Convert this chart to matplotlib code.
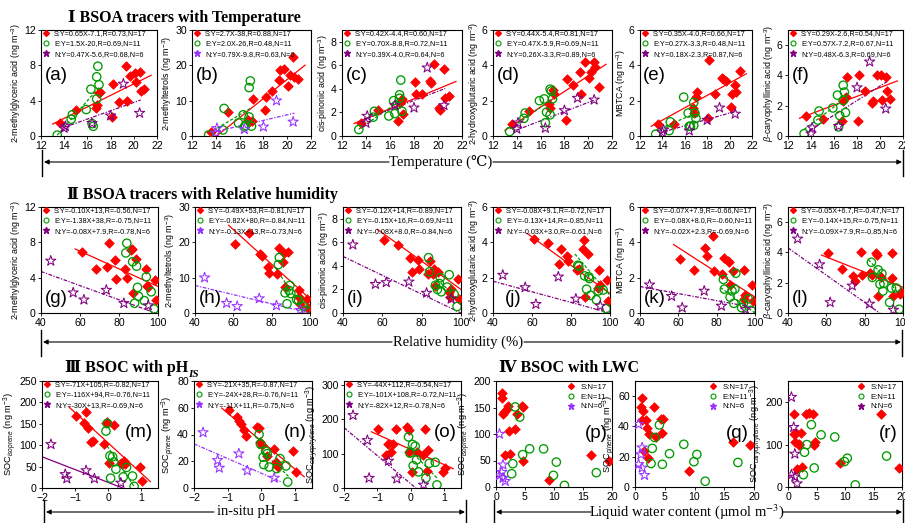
import re

import matplotlib

matplotlib.use("Agg")

import matplotlib.pyplot as plt
import numpy as np
from matplotlib.lines import Line2D

plt.rcParams["font.family"] = ["Liberation Sans", "DejaVu Sans"]
plt.rcParams["mathtext.fontset"] = "custom"
plt.rcParams["mathtext.rm"] = "Liberation Sans"
plt.rcParams["mathtext.it"] = "Liberation Sans:italic"
plt.rcParams["mathtext.bf"] = "Liberation Sans:bold"

SERIF = ["Liberation Serif", "DejaVu Serif", "DejaVu Sans"]
RED, GREEN, PURPLE, VIOLET = "#FF0000", "#009A00", "#800080", "#9932FF"
W, H = 905, 523

# ---------------- data ----------------
# row I: temperature (deg C) of S / E / N samples
temp_s = [13.6, 15.0, 16.7, 16.8, 17.0, 17.1, 18.1, 18.2, 18.7, 19.3, 19.4, 19.7, 20.1, 20.2, 20.5, 20.6, 20.9]
temp_e = [13.4, 14.6, 14.7, 15.9, 16.3, 16.4, 16.5, 16.8, 16.8, 16.9, 17.0]
temp_n = [14.0, 14.1, 16.4, 18.0, 19.1, 20.5]

mga_t_s = [1.5, 2.9, 3.2, 3.5, 4.9, 5.0, 2.2, 5.9, 3.8, 7.9, 4.0, 6.8, 7.1, 6.1, 7.2, 5.1, 5.3]
mga_t_e = [0.1, 1.9, 2.4, 3.0, 5.3, 1.4, 1.1, 4.2, 6.7, 7.9, 5.8]
mga_t_n = [0.9, 1.1, 1.45, 2.3, 5.9, 2.6]
mt_t_s = [1.2, 6.7, 4.5, 4.0, 4.3, 10.6, 7.3, 11.1, 12.8, 15.8, 18.6, 19.1, 14.2, 17.2, 22.3, 16.7, 16.2]
mt_t_e = [0.3, 1.7, 7.8, 3.7, 6.0, 2.6, 3.0, 13.7, 5.4, 15.6, 2.8]
mt_t_n = [0.9, 2.2, 1.9, 2.6, 10.0, 4.0]
cpa_t_s = [1.1, 2.2, 1.3, 2.8, 3.1, 1.9, 4.6, 3.6, 3.6, 4.7, 4.5, 6.1, 2.4, 2.2, 5.7, 3.2, 3.4]
cpa_t_e = [0.55, 1.6, 2.1, 1.7, 3.0, 1.9, 2.6, 3.2, 3.5, 4.75, 2.1]
cpa_t_n = [1.1, 1.7, 2.6, 2.4, 5.8, 2.6]
hga_t_s = [0.7, 1.4, 1.8, 1.6, 2.6, 2.4, 0.9, 3.25, 2.9, 3.6, 2.4, 4.2, 3.3, 3.65, 4.2, 3.9, 2.8]
hga_t_e = [0.25, 1.0, 1.3, 2.0, 2.1, 0.75, 1.35, 2.65, 1.2, 2.55, 2.1]
hga_t_n = [0.4, 0.75, 0.45, 1.45, 2.15, 2.05]
mbtca_t_s = [0.7, 0.7, 1.6, 1.3, 2.2, 2.5, 1.0, 4.3, 2.4, 3.3, 3.2, 3.1, 1.65, 2.35, 2.9, 2.5, 3.7]
mbtca_t_e = [0.1, 0.3, 0.8, 2.2, 1.3, 0.55, 0.55, 1.9, 0.6, 1.3, 1.0]
mbtca_t_n = [0.2, 0.35, 0.3, 0.9, 1.6, 1.25]
bca_t_s = [1.3, 1.1, 1.0, 2.3, 2.6, 3.9, 1.0, 4.0, 3.0, 2.2, 2.3, 4.0, 4.0, 2.4, 3.9, 3.0, 2.45]
bca_t_e = [0.15, 1.05, 1.65, 1.85, 2.7, 0.6, 1.35, 3.35, 2.35, 2.9, 1.55]
bca_t_n = [0.15, 0.55, 0.65, 3.2, 4.9, 1.8]

# row II: relative humidity (%)
rh_s = [61, 68, 74, 75, 78, 78.5, 83, 84, 86, 86.5, 87, 88.5, 94, 94.5, 95, 98.5, 99]
rh_e = [83.5, 84, 87, 88, 89, 89.5, 90, 93, 94, 96.5, 98]
rh_n = [45, 56.5, 62, 73.5, 82.5, 95]

mga_rh_s = [6.9, 5.0, 5.2, 7.9, 6.0, 3.9, 5.0, 4.0, 7.1, 7.2, 2.3, 6.1, 5.0, 3.1, 2.9, 3.7, 1.5]
mga_rh_e = [6.8, 7.9, 5.8, 1.1, 5.3, 2.9, 1.9, 1.4, 4.1, 2.4, 0.45]
mga_rh_n = [5.9, 2.3, 1.5, 2.6, 1.1, 0.85]
mt_rh_s = [19.4, 22.6, 16.6, 16.0, 13.0, 11.3, 10.9, 18.5, 14.4, 17.0, 7.4, 17.3, 6.6, 4.5, 2.6, 4.0, 1.5]
mt_rh_e = [13.7, 15.7, 5.7, 2.6, 6.4, 7.8, 5.5, 3.8, 3.6, 1.9, 0.75]
mt_rh_n = [10.0, 2.8, 1.9, 4.1, 2.1, 0.8]
cpa_rh_s = [6.2, 5.8, 4.7, 3.5, 4.5, 3.7, 3.3, 4.4, 3.3, 3.7, 2.3, 3.5, 1.8, 1.4, 2.0, 2.9, 1.2]
cpa_rh_e = [4.7, 3.5, 2.35, 2.0, 2.5, 3.0, 1.8, 2.2, 3.25, 1.6, 0.55]
cpa_rh_n = [5.8, 2.45, 2.6, 2.65, 1.7, 1.2]
hga_rh_s = [4.2, 3.95, 2.8, 3.6, 3.2, 2.95, 2.45, 2.5, 3.6, 4.15, 0.9, 3.35, 1.4, 2.45, 1.6, 1.85, 0.7]
hga_rh_e = [2.7, 2.65, 2.1, 1.35, 2.05, 1.95, 1.0, 0.75, 1.25, 1.3, 0.25]
hga_rh_n = [2.15, 1.45, 0.5, 2.05, 0.8, 0.4]
mbtca_rh_s = [3.05, 2.45, 3.7, 3.2, 4.35, 2.4, 2.2, 3.1, 2.95, 2.9, 1.6, 2.4, 0.8, 2.45, 1.0, 1.6, 0.7]
mbtca_rh_e = [1.9, 1.35, 0.9, 1.25, 0.55, 1.35, 2.25, 0.3, 0.55, 0.8, 0.15]
mbtca_rh_n = [1.6, 0.95, 0.3, 1.25, 0.4, 0.2]
bca_rh_s = [3.95, 2.9, 2.45, 2.1, 4.0, 2.5, 2.65, 2.5, 3.95, 3.85, 1.1, 2.4, 2.3, 3.95, 1.1, 1.25, 1.4]
bca_rh_e = [3.35, 2.35, 2.85, 1.9, 2.6, 1.45, 1.95, 0.7, 1.65, 1.65, 0.25]
bca_rh_n = [4.9, 3.2, 0.7, 1.8, 0.6, 0.2]

# row III: in-situ pH
ph_s = [-0.97, -0.73, -0.67, -0.6, -0.53, -0.45, -0.13, -0.07, -0.05, 0.03, 0.17, 0.37, 0.42, 0.47, 0.5, 0.95, 1.03]
ph_e = [-0.07, -0.03, 0.05, 0.07, 0.13, 0.17, 0.23, 0.45, 0.55, 0.73, 0.78]
ph_n = [-1.73, -1.3, -1.25, -0.67, -0.42, 0.38]

iso_ph_s = [169, 153, 178, 141, 108, 110, 102, 151, 155, 59, 148, 59, 57, 62, 55, 49, 16]
iso_ph_e = [133, 151, 75, 23, 73, 61, 44, 26, 48, 28, 4]
iso_ph_n = [102, 32, 22, 41, 22, 12]
pin_ph_s = [58, 53, 50, 48, 43, 39, 45.7, 44.5, 34.5, 32, 24, 29.5, 19.5, 18, 16, 27.5, 12]
pin_ph_e = [40, 33, 23, 17.5, 27.5, 25.7, 15.7, 14.5, 22, 16.5, 4.5]
pin_ph_n = [41.5, 20.7, 15, 25.7, 13, 7.5]
car_ph_s = [172, 97, 129, 105, 129, 172, 177, 169, 105, 47, 105, 97, 172, 49, 110, 47, 59]
car_ph_e = [149, 102, 127, 65, 122, 82, 47, 29, 72, 75, 9]
car_ph_n = [212, 139, 29, 79, 27, 9]

# row IV: liquid water content (umol m-3)
lwc_s = [1.0, 1.1, 1.2, 1.4, 1.5, 1.9, 2.0, 2.2, 2.4, 3.2, 3.6, 4.4, 4.6, 4.7, 9.1, 16.4, 19.4]
lwc_e = [2.7, 2.9, 3.3, 4.1, 4.6, 5.8, 8.2, 9.9, 10.4, 11.8, 17.3]
lwc_n = [0.6, 0.6, 1.0, 1.2, 1.2, 1.6]

iso_lwc_s = [178, 168, 138, 141, 60, 147, 153, 105, 62, 110, 138, 153, 151, 50, 14, 60, 49]
iso_lwc_e = [25, 44, 151, 132, 61, 72, 72, 22, 47, 3, 27]
iso_lwc_n = [100, 22, 28, 42, 17, 11]
pin_lwc_s = [53, 58.9, 44, 50, 24, 44, 39, 19, 35, 52.7, 33, 45, 35.5, 45, 10.4, 29.5, 27.8]
pin_lwc_e = [15.5, 25.5, 32.7, 41, 15, 22, 28.2, 16.7, 21.5, 3.8, 16.2]
pin_lwc_n = [41.5, 15, 21.5, 26, 12.7, 7.8]
car_lwc_s = [172, 125, 106, 128, 42, 102, 98, 128, 47, 172, 175, 172, 98, 106, 57, 171, 45]
car_lwc_e = [29, 82, 100, 147, 45, 123, 118, 60, 68, 5, 73]
car_lwc_n = [212, 29, 141, 78, 24, 8]

# legend texts (regression equations as printed)
leg_a = ["S:Y=0.65X-7.1,R=0.73,N=17", "E:Y=1.5X-20,R=0.69,N=11", "N:Y=0.47X-5.6,R=0.68,N=6"]
leg_b = ["S:Y=2.7X-38,R=0.88,N=17", "E:Y=2.0X-26,R=0.48,N=11", "N:Y=0.79X-9.8,R=0.63,N=6"]
leg_c = ["S:Y=0.42X-4.4,R=0.60,N=17", "E:Y=0.70X-8.8,R=0.72,N=11", "N:Y=0.39X-4.0,R=0.64,N=6"]
leg_d = ["S:Y=0.44X-5.4,R=0.81,N=17", "E:Y=0.47X-5.9,R=0.69,N=11", "N:Y=0.26X-3.3,R=0.89,N=6"]
leg_e = ["S:Y=0.35X-4.0,R=0.66,N=17", "E:Y=0.27X-3.3,R=0.48,N=11", "N:Y=0.18X-2.3,R=0.87,N=6"]
leg_f = ["S:Y=0.29X-2.6,R=0.54,N=17", "E:Y=0.57X-7.2,R=0.67,N=11", "N:Y=0.48X-6.3,R=0.69,N=6"]
leg_g = ["S:Y=-0.10X+13,R=-0.56,N=17", "E:Y=-1.38X+38,R=-0.75,N=11", "N:Y=-0.08X+7.9,R=-0.78,N=6"]
leg_h = ["S:Y=-0.49X+53,R=-0.81,N=17", "E:Y=-0.82X+80,R=-0.84,N=11", "N:Y=-0.13X+13,R=-0.73,N=6"]
leg_i = ["S:Y=-0.12X+14,R=-0.89,N=17", "E:Y=-0.15X+16,R=-0.69,N=11", "N:Y=-0.08X+8.0,R=-0.84,N=6"]
leg_j = ["S:Y=-0.08X+9.1,R=-0.72,N=17", "E:Y=-0.13X+14,R=-0.85,N=11", "N:Y=-0.03X+3.0,R=-0.61,N=6"]
leg_k = ["S:Y=-0.07X+7.9,R=-0.66,N=17", "E:Y=-0.08X+8.0,R=-0.60,N=11", "N:Y=-0.02X+2.3,R=-0.69,N=6"]
leg_l = ["S:Y=-0.05X+6.7,R=-0.47,N=17", "E:Y=-0.14X+15,R=-0.75,N=11", "N:Y=-0.09X+7.9,R=-0.85,N=6"]
leg_m = ["S:Y=-71X+105,R=-0.82,N=17", "E:Y=-116X+94,R=-0.76,N=11", "N:Y=-30X+13,R=-0.69,N=6"]
leg_n = ["S:Y=-21X+35,R=-0.87,N=17", "E:Y=-24X+28,R=-0.76,N=11", "N:Y=-11X+11,R=-0.75,N=6"]
leg_o = ["S:Y=-44X+112,R=-0.54,N=17", "E:Y=-101X+108,R=-0.72,N=11", "N:Y=-82X+12,R=-0.78,N=6"]
leg_lwc = ["S:N=17", "E:N=11", "N:N=6"]

UNIT = " (ng m$^{-3}$)"
ylab_mga = "2-methylglyceric acid" + UNIT
ylab_mt = "2-methyltetrols" + UNIT
ylab_cpa = "cis-pinonic acid" + UNIT
ylab_hga = "2-hydroxyglutaric acid" + UNIT
ylab_mbtca = "MBTCA" + UNIT
ylab_bca = r"$\beta$-caryophyllinic acid" + UNIT
ylab_iso = r"SOC$_{isoprene}$" + UNIT
ylab_pin = r"SOC$_{pinene}$" + UNIT
ylab_car = r"SOC$_{caryophyllene}$" + UNIT

# ---------------- layout / styles ----------------
ROWS = {
    "t": dict(x=(temp_s, temp_e, temp_n), xlim=(12, 22), xt=[12, 14, 16, 18, 20, 22], top=30, bot=136,
              spans=[(13.0, 21.5), (13.4, 17.0), (13.9, 20.6)], tag=(0.03, 0.57, "left")),
    "rh": dict(x=(rh_s, rh_e, rh_n), xlim=(40, 100), xt=[40, 60, 80, 100], top=207, bot=313,
               spans=[(57.5, 100), (82, 100), (40, 100)], tag=(0.03, 0.14, "left")),
    "ph": dict(x=(ph_s, ph_e, ph_n), xlim=(-2, 1.5), xt=[-2, -1, 0, 1], top=381, bot=488,
               spans=[(-1.18, 1.27), (-0.12, 0.8), (-2.0, 0.62)], tag=(0.96, 0.52, "right")),
    "lwc": dict(x=(lwc_s, lwc_e, lwc_n), xlim=(0, 20), xt=[0, 5, 10, 15, 20], top=381, bot=487,
                spans=None, tag=(0.96, 0.5, "right")),
}

PANELS = [
    ("a", "t", (mga_t_s, mga_t_e, mga_t_n), leg_a, ylab_mga, 12, [0, 4, 8, 12], PURPLE, 41, 157),
    ("b", "t", (mt_t_s, mt_t_e, mt_t_n), leg_b, ylab_mt, 30, [0, 10, 20, 30], VIOLET, 192, 311),
    ("c", "t", (cpa_t_s, cpa_t_e, cpa_t_n), leg_c, ylab_cpa, 9, [0, 2, 4, 6, 8], PURPLE, 342, 462),
    ("d", "t", (hga_t_s, hga_t_e, hga_t_n), leg_d, ylab_hga, 6, [0, 2, 4, 6], PURPLE, 493, 612),
    ("e", "t", (mbtca_t_s, mbtca_t_e, mbtca_t_n), leg_e, ylab_mbtca, 6, [0, 2, 4, 6], PURPLE, 640, 752),
    ("f", "t", (bca_t_s, bca_t_e, bca_t_n), leg_f, ylab_bca, 7, [0, 2, 4, 6], PURPLE, 788, 903),
    ("g", "rh", (mga_rh_s, mga_rh_e, mga_rh_n), leg_g, ylab_mga, 12, [0, 4, 8, 12], PURPLE, 41, 158),
    ("h", "rh", (mt_rh_s, mt_rh_e, mt_rh_n), leg_h, ylab_mt, 30, [0, 10, 20, 30], VIOLET, 195, 310),
    ("i", "rh", (cpa_rh_s, cpa_rh_e, cpa_rh_n), leg_i, ylab_cpa, 9, [0, 2, 4, 6, 8], PURPLE, 343, 461),
    ("j", "rh", (hga_rh_s, hga_rh_e, hga_rh_n), leg_j, ylab_hga, 6, [0, 2, 4, 6], PURPLE, 493, 610),
    ("k", "rh", (mbtca_rh_s, mbtca_rh_e, mbtca_rh_n), leg_k, ylab_mbtca, 6, [0, 2, 4, 6], PURPLE, 640, 755),
    ("l", "rh", (bca_rh_s, bca_rh_e, bca_rh_n), leg_l, ylab_bca, 7, [0, 2, 4, 6], PURPLE, 788, 903),
    ("m", "ph", (iso_ph_s, iso_ph_e, iso_ph_n), leg_m, ylab_iso, 250, [0, 50, 100, 150, 200, 250], PURPLE, 42, 158),
    ("n", "ph", (pin_ph_s, pin_ph_e, pin_ph_n), leg_n, ylab_pin, 80, [0, 20, 40, 60, 80], VIOLET, 194, 312),
    ("o", "ph", (car_ph_s, car_ph_e, car_ph_n), leg_o, ylab_car, 312, [0, 100, 200, 300], PURPLE, 344, 461),
    ("p", "lwc", (iso_lwc_s, iso_lwc_e, iso_lwc_n), leg_lwc, ylab_iso, 200, [0, 50, 100, 150, 200], VIOLET, 496, 612),
    ("q", "lwc", (pin_lwc_s, pin_lwc_e, pin_lwc_n), leg_lwc, ylab_pin, 70, [0, 20, 40, 60], VIOLET, 635, 754),
    ("r", "lwc", (car_lwc_s, car_lwc_e, car_lwc_n), leg_lwc, ylab_car, 250, [0, 100, 200], PURPLE, 788, 902),
]

EQ = re.compile(r"Y=(-?[\d.]+)X([+-][\d.]+)")


def px_rect(x0, y0, x1, y1):
    return [x0 / W, 1 - y1 / H, (x1 - x0) / W, (y1 - y0) / H]


def draw_panel(fig, letter, row, ys, legend, ylabel, ymax, yticks, star, x0, x1):
    cfg = ROWS[row]
    ax = fig.add_axes(px_rect(x0, cfg["top"], x1, cfg["bot"]))
    xs_s, xs_e, xs_n = cfg["x"]
    ys_s, ys_e, ys_n = ys

    ax.scatter(xs_s, ys_s, marker="D", s=24, c=RED, edgecolors=RED, linewidths=0.5, zorder=3)
    ax.scatter(xs_e, ys_e, marker="o", s=36, facecolors="none", edgecolors=GREEN, linewidths=0.95, zorder=4)
    ax.scatter(xs_n, ys_n, marker="*", s=60, facecolors="none", edgecolors=star, linewidths=0.75, zorder=4)

    if cfg["spans"]:
        styles = [(RED, "-"), (GREEN, (0, (2.5, 1.5))),
                  (star, "-" if letter == "m" else (0, (3, 1.2, 1, 1.2)))]
        for lab, (lo, hi), (col, ls) in zip(legend, cfg["spans"], styles):
            k, b = map(float, EQ.search(lab).groups())
            xx = np.array([lo, hi])
            ax.plot(xx, k * xx + b, color=col, ls=ls, lw=0.9, zorder=2)

    handles = [
        Line2D([], [], marker="D", ls="none", color=RED, markersize=3),
        Line2D([], [], marker="o", ls="none", mfc="none", mec=GREEN, mew=0.8, markersize=3.6),
        Line2D([], [], marker="*", ls="none", color=star, markersize=5),
    ]
    if row == "lwc":
        ax.legend(handles, legend, loc="upper right", bbox_to_anchor=(0.97, 0.99), frameon=False,
                  fontsize=5.6, handlelength=1.0, handletextpad=0.8, labelspacing=0.28, borderpad=0.2,
                  borderaxespad=0)
    else:
        ax.legend(handles, legend, loc="upper left", bbox_to_anchor=(0.0, 1.01), frameon=False,
                  fontsize=5.2, handlelength=1.0, handletextpad=0.6, labelspacing=0.42, borderpad=0.2,
                  borderaxespad=0)

    tx, ty, ha = cfg["tag"]
    if letter == "j":
        tx = 0.1
    ax.text(tx, ty, f"({letter})", transform=ax.transAxes, ha=ha, va="center", fontsize=13.5)

    ax.set_xlim(*cfg["xlim"])
    ax.set_xticks(cfg["xt"])
    ax.set_ylim(0, ymax)
    ax.set_yticks(yticks)
    ax.tick_params(direction="out", length=2.5, width=0.6, labelsize=7.6, pad=1.2)
    for sp in ax.spines.values():
        sp.set_linewidth(0.8)
    if row in ("ph", "lwc"):
        ax.set_ylabel(ylabel, fontsize=6.7, labelpad=0)
    else:
        ax.set_ylabel(ylabel, fontsize=6.4, labelpad=1)
    return ax


fig = plt.figure(figsize=(W / 100, H / 100), dpi=100)

for spec in PANELS:
    draw_panel(fig, *spec)

# overlay in pixel coordinates for section titles and axis arrows
ov = fig.add_axes([0, 0, 1, 1], zorder=-1)
ov.set_xlim(0, W)
ov.set_ylim(H, 0)
ov.axis("off")

ov.text(68, 18, "Ⅰ BSOA tracers with Temperature", family=SERIF, weight="bold", fontsize=11.5, va="center")
ov.text(67, 195, "Ⅱ BSOA tracers with Relative humidity", family=SERIF, weight="bold", fontsize=11.5,
        va="center")
t3 = ov.text(65, 368, "Ⅲ BSOC with pH", family=SERIF, weight="bold", fontsize=11.5, va="center")
ov.annotate("IS", xy=(1, 0.1), xycoords=t3, ha="left", va="center", family=SERIF, weight="bold",
            style="italic", fontsize=8)
ov.text(499, 368, "Ⅳ BSOC with LWC", family=SERIF, weight="bold", fontsize=11.5, va="center")


def axis_arrow(y, x_left, x_right, text, xc, t_half):
    arrow = dict(arrowstyle="-|>", color="black", lw=0.8, mutation_scale=7, shrinkA=0, shrinkB=0)
    ov.annotate("", xy=(x_left + 2, y), xytext=(xc - t_half - 4, y), arrowprops=arrow)
    ov.annotate("", xy=(x_right - 1, y), xytext=(xc + t_half + 4, y), arrowprops=arrow)
    ov.plot([x_left, x_left], [y - 12, y + 14], color="black", lw=1.0)
    ov.plot([x_right, x_right], [y - 12, y + 14], color="black", lw=1.0)
    ov.text(xc, y, text, family=SERIF, fontsize=10.5, ha="center", va="center", math_fontfamily="stix")


axis_arrow(162, 42, 903, "Temperature (℃)", 441, 48)
axis_arrow(342, 41, 902, "Relative humidity (%)", 458, 62)
axis_arrow(512, 44, 466, "in-situ pH", 246, 28)
axis_arrow(512, 494, 903, "Liquid water content (µmol m$^{-3}$)", 687, 92)

fig.savefig("out.png", dpi=100)
